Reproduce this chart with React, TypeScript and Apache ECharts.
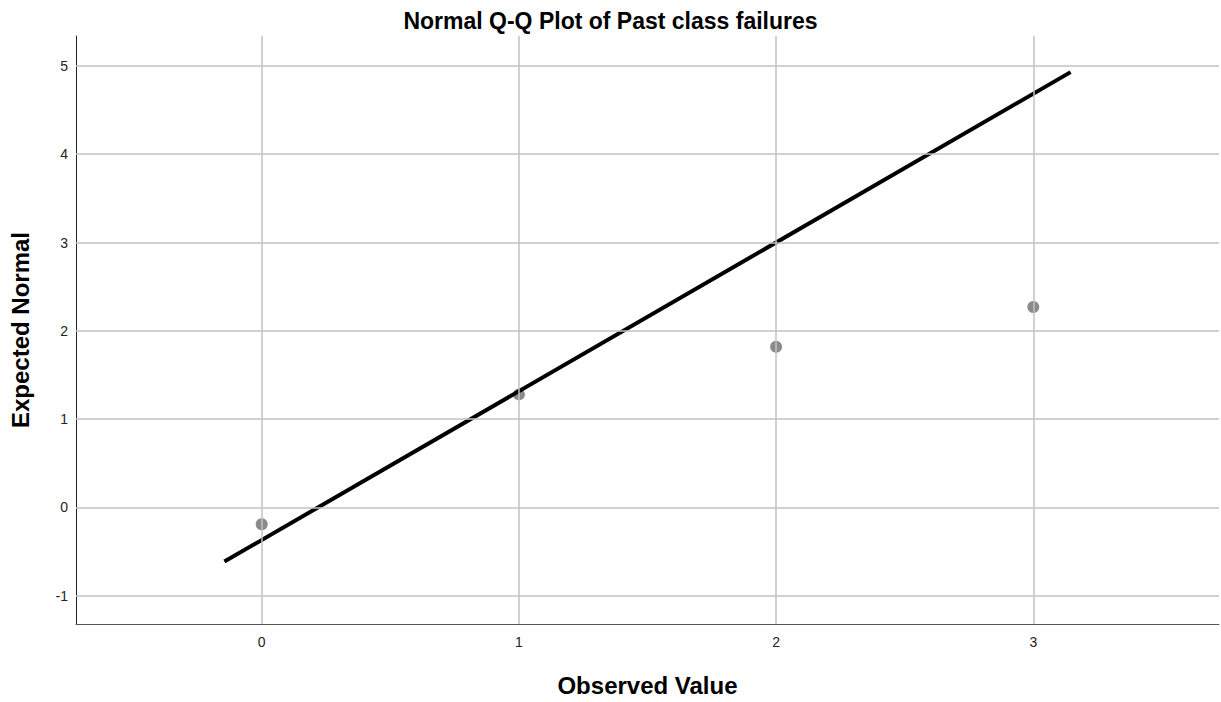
import React, { useEffect, useRef } from "react";
import * as echarts from "echarts";

const titleText = "Normal Q-Q Plot of Past class failures";
const xName = "Observed Value";
const yName = "Expected Normal";

const observed = [0, 1, 2, 3];
const expectedNormal = [-0.19, 1.28, 1.82, 2.27];

const lineX = [-0.145, 3.145];
const lineY = [-0.613, 4.93];

const xTicks = [0, 1, 2, 3];
const yTicks = [-1, 0, 1, 2, 3, 4, 5];

const xMin = -0.722;
const xMax = 3.722;
const yMin = -1.32;
const yMax = 5.339;

const FONT = "'Liberation Sans', Arial, sans-serif";

export default function App() {
  const ref = useRef<HTMLDivElement>(null);
  useEffect(() => {
    if (!ref.current) return;
    const chart = echarts.init(ref.current, null, { renderer: "svg" });
    const gridColor = "#c2c2c2";
    chart.setOption({
      animation: false,
      backgroundColor: "#ffffff",
      textStyle: { fontFamily: FONT },
      title: {
        text: titleText,
        left: "center",
        top: 4,
        textStyle: { fontFamily: FONT, fontSize: 23, fontWeight: "bold", color: "#000" },
      },
      grid: { left: 76, right: 2, top: 36, bottom: 76, containLabel: false },
      xAxis: {
        type: "value",
        min: xMin,
        max: xMax,
        name: xName,
        nameLocation: "middle",
        nameGap: 49,
        nameTextStyle: { fontFamily: FONT, fontSize: 24, fontWeight: "bold", color: "#000" },
        axisLine: { show: true, onZero: false, lineStyle: { color: "#555", width: 1 } },
        axisTick: { show: false },
        splitLine: { show: false },
        axisLabel: {
          customValues: xTicks,
          margin: 11,
          fontSize: 14,
          color: "#222",
          fontFamily: FONT,
        },
      },
      yAxis: {
        type: "value",
        min: yMin,
        max: yMax,
        name: yName,
        nameLocation: "middle",
        nameRotate: 90,
        nameGap: 44,
        nameTextStyle: { fontFamily: FONT, fontSize: 24, fontWeight: "bold", color: "#000" },
        axisLine: { show: true, onZero: false, lineStyle: { color: "#222", width: 1 } },
        axisTick: { show: false },
        splitLine: { show: false },
        axisLabel: {
          customValues: yTicks,
          margin: 8,
          fontSize: 14,
          color: "#222",
          fontFamily: FONT,
        },
      },
      series: [
        {
          type: "scatter",
          name: "grid",
          data: [],
          z: 1,
          silent: true,
          markLine: {
            silent: true,
            symbol: "none",
            label: { show: false },
            lineStyle: { color: gridColor, width: 1.5, type: "solid" },
            data: [
              ...xTicks.map((v) => ({ xAxis: v })),
              ...yTicks.map((v) => ({ yAxis: v })),
            ],
          },
        },
        {
          type: "scatter",
          name: "points",
          z: 3,
          symbolSize: 12,
          itemStyle: { color: "#6e6e6e" },
          data: observed.map((x, i) => [x, expectedNormal[i]]),
        },
        {
          type: "line",
          name: "line",
          z: 4,
          showSymbol: false,
          symbol: "none",
          lineStyle: { color: "#000", width: 4 },
          data: lineX.map((x, i) => [x, lineY[i]]),
        },
      ],
    });
    return () => chart.dispose();
  }, []);
  return (
    <div
      ref={ref}
      style={{ position: "fixed", left: 0, top: 0, width: 1221, height: 702 }}
    />
  );
}
